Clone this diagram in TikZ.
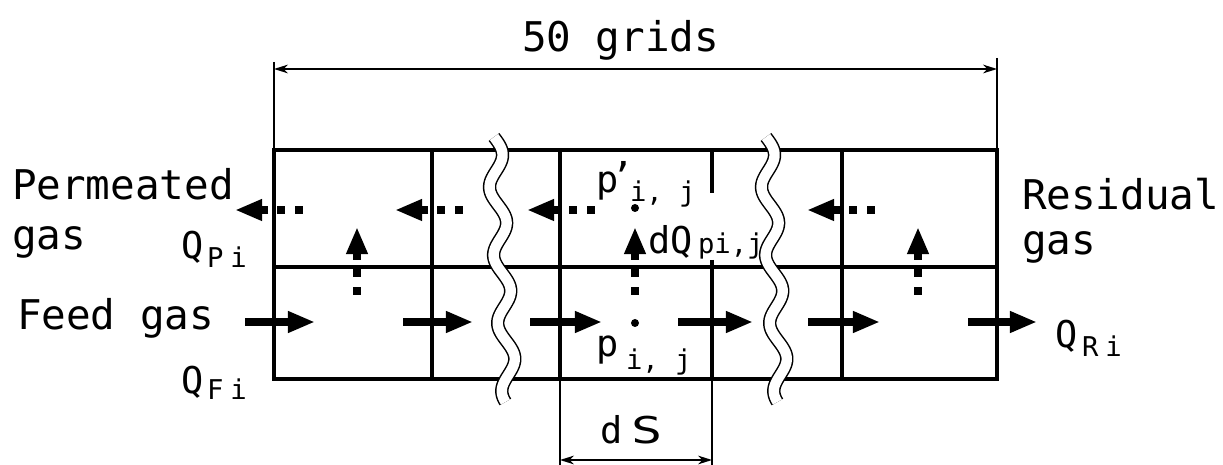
\documentclass[tikz,border=0pt]{standalone}
\usepackage{fontspec}
\usepackage{graphicx}
\setmainfont{DejaVu Sans Mono}
\usetikzlibrary{arrows.meta}
\newcommand\fmain{\fontsize{23.3pt}{27pt}\selectfont}
\newcommand\fmed{\fontsize{21pt}{25pt}\selectfont}
\newcommand\fsub{\fontsize{15.5pt}{18pt}\selectfont}
\newcommand\fsubb{\fontsize{15.5pt}{18pt}\selectfont}
\begin{document}
\begin{tikzpicture}[x=0.02cm,y=-0.02cm,
  gridline/.style={line width=1.88pt},
  thinline/.style={line width=0.85pt},
  flow/.style={line width=4.55pt,-{Triangle[length=15.4pt,width=11.4pt]}},
  dimarrow/.style={line width=0.85pt,{Stealth[length=8pt,width=5pt]}-{Stealth[length=8pt,width=5pt]}},
  lbl/.style={anchor=base west,inner sep=0pt,outer sep=0pt},
  sq/.style={fill=black},
  wavyback/.style={line width=7.6pt,black},
  wavyfront/.style={line width=5.9pt,white}]
\useasboundingbox (0,0) rectangle (1223,465);
% grid
\draw[gridline] (274,150) rectangle (997,379);
\draw[gridline] (274,267) -- (997,267);
\foreach \xx in {432,560,842} \draw[gridline] (\xx,150) -- (\xx,379);
\draw[gridline] (712,150) -- (712,193);
\draw[gridline] (712,260) -- (712,379);
% dimension 50 grids
\coordinate (dl) at (274,69);
\coordinate (dr) at (997,69);
\draw[thinline] (274,62) -- (274,150);
\draw[thinline] (997,58) -- (997,150);
\draw[dimarrow] (dl) -- (dr);
% dimension dS
\coordinate (sl) at (560,460);
\coordinate (sr) at (712,460);
\draw[thinline] (560,379) -- (560,465);
\draw[thinline] (712,379) -- (712,465);
\draw[dimarrow] (sl) -- (sr);
% feed flow arrows (bottom row)
\foreach \a/\b in {245/315,403/473,530/602,678/753,808/880,968/1037}
  \draw[flow] (\a,322) -- (\b,322);
% permeate flow arrows (top row, leftwards)
\foreach \t in {235,395,527,807}{
  \draw[flow] (\t+33,210) -- (\t,210);
  \fill[sq] (\t+42,206) rectangle (\t+50,214);
  \fill[sq] (\t+60,206) rectangle (\t+68,214);
}
% permeation arrows (upwards)
\foreach \xx in {357,635,918}{
  \draw[flow] (\xx,260) -- (\xx,227);
  \fill[sq] (\xx-4,269) rectangle (\xx+4,277);
  \fill[sq] (\xx-4,287) rectangle (\xx+4,295);
}
% points
\fill (635,208) circle (4);
\fill (635,323) circle (4);
% labels
\node[lbl] (t50) at (522,52) {\fmain 50 grids};
\node[lbl] (tperm) at (12,200) {\fmain Permeated};
\node[lbl] (tpgas) at (12,250) {\fmain gas};
\node[lbl] (tfeed) at (17,330) {\fmain Feed gas};
\node[lbl] (tres) at (1022,210) {\fmain Residual};
\node[lbl] (trgas) at (1022,255) {\fmain gas};
\node[lbl] (qp) at (181,259) {\fmed Q};
\node[lbl] (qpsub) at (207,268) {\fsub P\kern4pt i};
\node[lbl] (qf) at (181,394) {\fmed Q};
\node[lbl] (qfsub) at (207,400) {\fsub F\kern4pt i};
\node[lbl] (qr) at (1055,348) {\fmed Q};
\node[lbl] (qrsub) at (1082,357) {\fsub R\kern4pt i};
\node[lbl] (pt) at (596,193) {\fmed p\kern-4pt\makebox[0pt][l]{\raisebox{2pt}{’}}};
\node[lbl] (ptsub) at (630,202) {\fsubb i, j};
\node[lbl] (pb) at (596,357) {\fmed p};
\node[lbl] (pbsub) at (626,370) {\fsubb i, j};
\node[lbl] (dq) at (648,254) {\fmed dQ};
\node[lbl] (dqsub) at (698,254) {\fsubb pi,j};
\node[lbl] (ds) at (600,443) {\fmed d\kern5pt\scalebox{1.4}[1]{S}};
% wavy breaks
\foreach \c in {494,766}{
  \draw[wavyback] plot[variable=\t,domain=137:402,samples=130] ({\c+0.06*(\t-137)+7.5*sin(5.2941*(\t-205))},\t);
  \draw[wavyfront] plot[variable=\t,domain=137:402,samples=130] ({\c+0.06*(\t-137)+7.5*sin(5.2941*(\t-205))},\t);
}
\end{tikzpicture}
\end{document}
